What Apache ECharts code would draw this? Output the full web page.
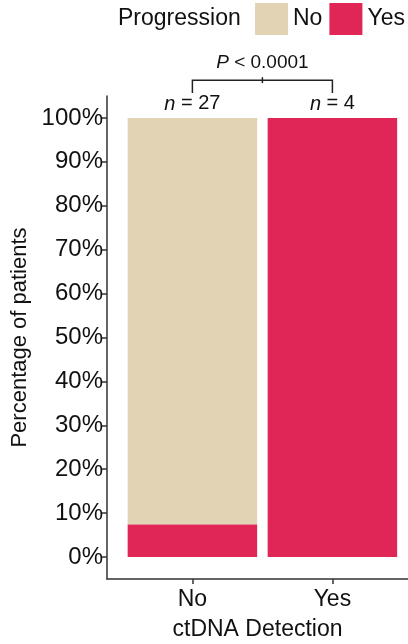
<!DOCTYPE html>
<html lang="en">
<head>
    <meta charset="UTF-8">
    <title>ctDNA Detection vs Progression</title>
    <script src="https://cdn.jsdelivr.net/npm/echarts@6/dist/echarts.min.js"></script>
    <style>
        html, body { margin: 0; padding: 0; background: #fff; }
    </style>
</head>
<body>
    <div id="chart" style="width: 408px; height: 644px;"></div>
    <script>
        // data
        var categories = ['No', 'Yes'];
        var yesPct = [7.4, 100];     // progression = Yes
        var noPct = [92.6, 0];       // progression = No
        var nCounts = [27, 4];
        var pText = 'P < 0.0001';
        var yTicks = [0, 10, 20, 30, 40, 50, 60, 70, 80, 90, 100];

        var font = 'Liberation Sans, Arial, sans-serif';
        var chart = echarts.init(document.getElementById('chart'));

        // stacked segments: [x, from, to]
        var yesData = yesPct.map(function (v, i) { return [i + 1, 0, v]; });
        var noData = noPct.map(function (v, i) { return [i + 1, yesPct[i], yesPct[i] + v]; });

        function renderBar(params, api) {
            var x = api.value(0);
            var lo = api.coord([x, api.value(1)]);
            var hi = api.coord([x, api.value(2)]);
            var w = api.size([0.925, 0])[0];
            if (lo[1] - hi[1] <= 0) return null;
            return {
                type: 'rect',
                shape: { x: lo[0] - w / 2, y: hi[1], width: w, height: lo[1] - hi[1] },
                style: api.style()
            };
        }

        chart.setOption({
            animation: false,
            textStyle: { fontFamily: font },
            title: {
                text: 'Progression',
                left: 118, top: 7, padding: 0,
                textStyle: { fontSize: 23, fontWeight: 'normal', color: '#111', fontFamily: font }
            },
            legend: {
                data: ['No', 'Yes'],
                left: 255, top: 3,
                padding: 0,
                itemWidth: 33, itemHeight: 32, itemGap: 7,
                icon: 'rect',
                textStyle: { fontSize: 23, color: '#111', fontFamily: font }
            },
            grid: { left: 107, right: 0, top: 96, bottom: 65, outerBoundsMode: 'none', containLabel: false },
            xAxis: {
                type: 'value',
                min: 0.39, max: 2.54,
                name: 'ctDNA Detection',
                nameLocation: 'middle',
                nameGap: 39,
                nameTextStyle: { fontSize: 23, color: '#111' },
                splitLine: { show: false },
                axisLine: { show: true, onZero: false, lineStyle: { color: '#333', width: 1.5 } },
                axisTick: { show: true, customValues: [1, 2], length: 5, lineStyle: { color: '#333', width: 1.5 } },
                axisLabel: {
                    customValues: [1, 2],
                    fontSize: 23, color: '#111', margin: 9,
                    formatter: function (v) { return categories[Math.round(v) - 1]; }
                }
            },
            yAxis: {
                type: 'value',
                min: -5, max: 105, interval: 5,
                name: 'Percentage of patients',
                nameLocation: 'middle',
                nameGap: 74,
                nameTextStyle: { fontSize: 22, color: '#111' },
                splitLine: { show: false },
                axisLine: { show: true, onZero: false, lineStyle: { color: '#333', width: 1.5 } },
                axisTick: { show: true, customValues: yTicks, length: 5, lineStyle: { color: '#333', width: 1.5 } },
                axisLabel: {
                    customValues: yTicks,
                    fontSize: 24, color: '#111', margin: 4,
                    formatter: function (v) { return v + '%'; }
                }
            },
            series: [
                {
                    name: 'No',
                    type: 'custom',
                    renderItem: renderBar,
                    encode: { x: 0, y: [1, 2] },
                    itemStyle: { color: '#E3D3B5' },
                    data: noData
                },
                {
                    name: 'Yes',
                    type: 'custom',
                    renderItem: renderBar,
                    encode: { x: 0, y: [1, 2] },
                    itemStyle: { color: '#E02656' },
                    data: yesData
                }
            ]
        });

        // annotations: significance bracket and n labels
        function px(x, y) { return chart.convertToPixel({ gridIndex: 0 }, [x, y]); }
        var bL = px(1, 108.6), bR = px(2, 108.6);
        var dL = px(1, 105.7), dR = px(2, 105.7);
        var mid = px(1.5, 108.6);
        var graphics = [
            { type: 'polyline', shape: { points: [dL, bL, bR, dR] }, style: { stroke: '#222', lineWidth: 1.5, fill: null } },
            { type: 'line', shape: { x1: mid[0], y1: mid[1] - 3, x2: mid[0], y2: mid[1] + 3 }, style: { stroke: '#222', lineWidth: 1.5 } },
            {
                type: 'text',
                x: mid[0], y: mid[1] - 8,
                style: {
                    text: '{i|P}' + pText.slice(1),
                    align: 'center', verticalAlign: 'bottom',
                    font: '19px ' + font, fill: '#111',
                    rich: { i: { fontStyle: 'italic', fontSize: 19, fontFamily: font } }
                }
            }
        ];
        nCounts.forEach(function (n, i) {
            var p = px(i + 1, 100);
            graphics.push({
                type: 'text',
                x: p[0], y: p[1] - 4,
                style: {
                    text: '{i|n} = ' + n,
                    align: 'center', verticalAlign: 'bottom',
                    font: '20px ' + font, fill: '#111',
                    rich: { i: { fontStyle: 'italic', fontSize: 20, fontFamily: font } }
                }
            });
        });
        chart.setOption({ graphic: graphics });
    </script>
</body>
</html>
